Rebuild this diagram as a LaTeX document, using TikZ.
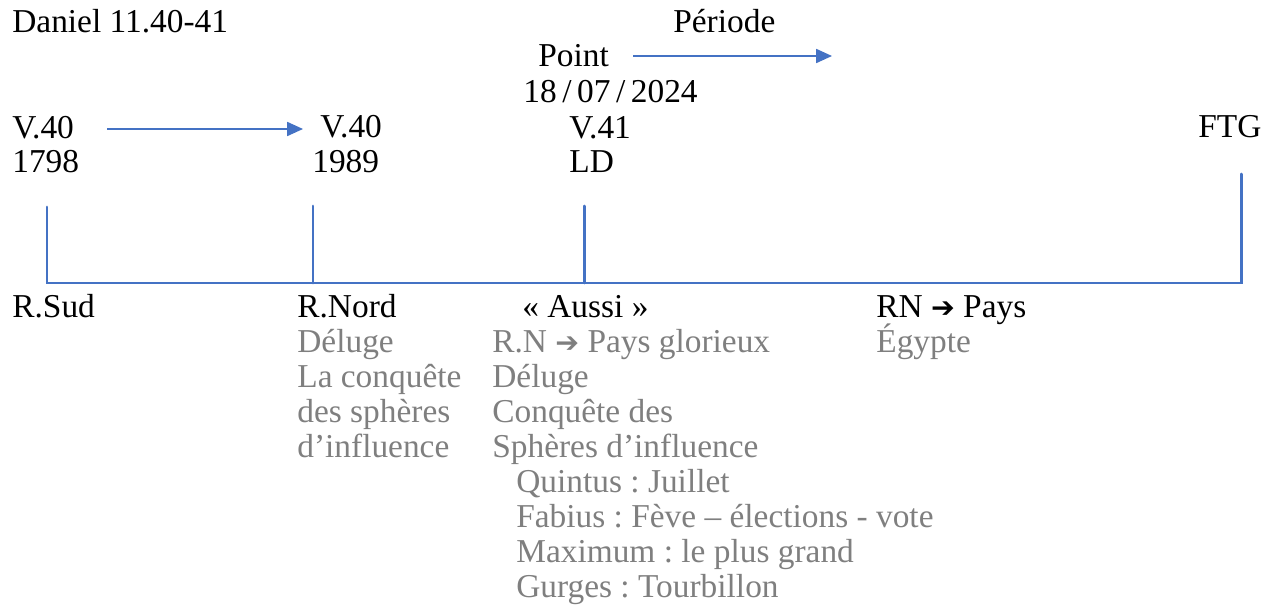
\documentclass[tikz,border=0pt]{standalone}
\usepackage{fontspec}
\setmainfont{Liberation Serif}
\newfontfamily\symfont[Scale=0.85]{DejaVu Sans}
\usetikzlibrary{arrows.meta}
\frenchspacing

\definecolor{lineblue}{HTML}{4472C4}
\definecolor{notegray}{HTML}{7F7F7F}
\newcommand{\harrow}{{\symfont ➔}}

\tikzset{
  txt/.style={anchor=base west, inner sep=0pt, align=left,
    font=\fontsize{19}{19.9}\selectfont},
  note/.style={txt, text=notegray},
  axis/.style={draw=lineblue, line width=1.7pt, line cap=round},
  link/.style={draw=lineblue, line width=0.8pt,
    -{Triangle[length=9pt, width=8pt]}}
}

\begin{document}
\begin{tikzpicture}[x=0.02cm, y=-0.02cm]
    \useasboundingbox (0,0) rectangle (1271,611);

    % top labels (multi-line nodes sit on their last baseline)
    \node[txt] (daniel) at (12,33) {Daniel 11.40-41};
    \node[txt] (periode) at (673,33) {Période};
    \node[txt] (point) at (538,67) {Point};
    \node[txt] (date) at (523,103) {18\,/\,07\,/\,2024};

    \node[txt] (v40a) at (12,173) {V.40\\1798};
    \node[txt] (v40b) at (320,138) {V.40};
    \node[txt] (y1989) at (312,173) {1989};
    \node[txt] (v41) at (569,173) {V.41\\LD};
    \node[txt] (ftg) at (1198,138) {FTG};

    % arrows
    \path (v40a.east |- 0,129) ++(28,0) coordinate (vStart);
    \path (v40b.west |- 0,129) ++(-17,0) coordinate (vEnd);
    \coordinate (perStart) at (633,56);
    \coordinate (perEnd) at (832,56);
    \draw[link] (vStart) -- (vEnd);
    \draw[link] (perStart) -- (perEnd);

    % timeline
    \coordinate (s1) at (47,207);  \coordinate (b1) at (47,283);
    \coordinate (s2) at (313,206); \coordinate (b2) at (313,283);
    \coordinate (s3) at (584,206); \coordinate (b3) at (584,283);
    \coordinate (s4) at (1241,174); \coordinate (b4) at (1241,283);
    \draw[axis] (s1) -- (b1) -- (b4) -- (s4);
    \draw[axis] (s2) -- (b2);
    \draw[axis] (s3) -- (b3);

    % bottom labels
    \node[txt] (rsud) at (12,317) {R.Sud};
    \node[txt] (rnord) at (297,317) {R.Nord};
    \node[note] (rnordNote) at (297,457) {Déluge\\La conquête\\des sphères\\d’influence};
    \node[txt] (aussi) at (522,317) {« Aussi »};
    \node[note] (aussiNote) at (492,457) {R.N \harrow{} Pays glorieux\\Déluge\\Conquête des\\Sphères d’influence};
    \node[note] (names) at (516,597) {Quintus : Juillet\\Fabius : Fève – élections - vote\\Maximum : le plus grand\\Gurges : Tourbillon};
    \node[txt] (rnPays) at (876,317) {RN \harrow{} Pays};
    \node[note] (egypte) at (876,352) {Égypte};
\end{tikzpicture}
\end{document}
